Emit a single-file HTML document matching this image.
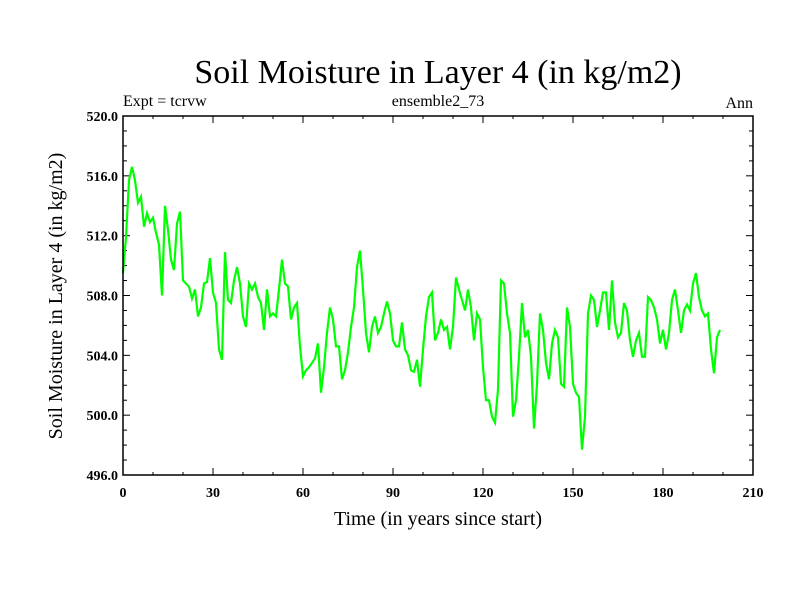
<!DOCTYPE html>
<html><head><meta charset="utf-8"><style>body{margin:0;background:#fff}svg{display:block}text{font-family:"Liberation Serif",serif;fill:#000}</style></head>
<body>
<svg id="chart" width="800" height="600" xmlns="http://www.w3.org/2000/svg">
<rect width="800" height="600" fill="#fff"/>
<text x="438" y="83" font-size="34" text-anchor="middle">Soil Moisture in Layer 4 (in kg/m2)</text>
<text x="123" y="106" font-size="16">Expt = tcrvw</text>
<text x="438" y="106" font-size="16" text-anchor="middle">ensemble2_73</text>
<text x="753" y="108" font-size="16" text-anchor="end">Ann</text>
<text x="438" y="525" font-size="20" text-anchor="middle">Time (in years since start)</text>
<text transform="translate(62,296) rotate(-90)" font-size="20" text-anchor="middle">Soil Moisture in Layer 4 (in kg/m2)</text>
<g id="axes"></g>
<polyline id="series" fill="none" stroke="#00ff00" stroke-width="2.2" stroke-linejoin="miter"/>
<rect x="123" y="116" width="630" height="359" fill="none" stroke="#000" stroke-width="1.5"/>
</svg>
<script>
const xTicks=[0,30,60,90,120,150,180,210];
const yTicks=[496,500,504,508,512,516,520];
const years=[];for(let i=0;i<200;i++)years.push(i);
const values=[509.5,511.9,515.7,516.6,515.7,514.2,514.6,512.6,513.5,512.9,513.2,512.2,511.4,508.0,514.0,512.4,510.4,509.7,512.8,513.6,
509.0,508.8,508.6,507.8,508.4,506.6,507.2,508.8,508.9,510.5,508.2,507.5,504.4,503.7,510.9,507.7,507.5,509.0,509.9,508.8,
506.6,505.9,508.8,508.4,508.8,507.9,507.5,505.7,508.4,506.6,506.8,506.6,508.4,510.4,508.8,508.6,506.4,507.2,507.5,504.6,
502.6,503.0,503.2,503.5,503.8,504.8,501.5,503.2,505.5,507.2,506.4,504.6,504.6,502.4,503.0,504.2,505.9,507.2,509.9,511.0,
508.4,505.5,504.2,505.9,506.6,505.5,505.9,506.8,507.6,506.8,505.0,504.6,504.6,506.2,504.4,504.0,503.0,502.9,503.7,501.9,
504.4,506.6,507.9,508.2,505.0,505.5,506.4,505.7,505.9,504.4,505.9,509.2,508.4,507.7,507.0,508.4,507.2,505.0,506.8,506.4,
503.2,501.0,501.0,499.9,499.5,501.7,509.0,508.8,506.8,505.5,499.9,501.0,503.9,507.5,505.2,505.7,503.9,499.1,502.1,506.8,
505.7,503.5,502.4,504.8,505.7,505.2,502.1,501.9,507.2,505.9,502.1,501.5,501.2,497.7,499.9,506.8,508.0,507.7,505.9,507.0,
508.2,508.2,505.7,509.0,506.2,505.2,505.5,507.5,507.0,505.0,503.9,505.0,505.5,503.9,503.9,507.9,507.7,507.2,506.4,504.8,
505.7,504.4,505.5,507.7,508.4,507.0,505.5,507.0,507.4,507.0,508.8,509.5,507.9,507.0,506.6,506.8,504.4,502.8,505.2,505.7];
const X0=123,X1=753,Y0=475,Y1=116;
const xs=v=>X0+(v-0)/(210-0)*(X1-X0);
const ys=v=>Y0-(v-496)/(520-496)*(Y0-Y1);
const NS="http://www.w3.org/2000/svg";
const g=document.getElementById('axes');
function line(x1,y1,x2,y2,name){const l=document.createElementNS(NS,'line');
l.setAttribute('x1',x1);l.setAttribute('y1',y1);l.setAttribute('x2',x2);l.setAttribute('y2',y2);
l.setAttribute('stroke','#000');l.setAttribute('stroke-width','1');


g.appendChild(l);}
function txt(x,y,s,anchor,name){const t=document.createElementNS(NS,'text');
t.setAttribute('x',x);t.setAttribute('y',y);t.setAttribute('font-size','14');t.setAttribute('font-weight','bold');t.setAttribute('text-anchor',anchor);t.textContent=s;


g.appendChild(t);}
for(let v=496;v<=520;v++){const y=ys(v);const L=(v%4===0)?7:4;
line(X0,y,X0+L,y,'y-tick');line(X1,y,X1-L,y,'y-tick');}
yTicks.forEach(v=>txt(X0-5,ys(v)+5,v.toFixed(1),'end','y-tick-label'));
for(let v=0;v<=210;v+=10){const x=xs(v);const L=(v%30===0)?7:3;
line(x,Y0,x,Y0-L,'x-tick');line(x,Y1,x,Y1+L,'x-tick');}
xTicks.forEach(v=>txt(xs(v),Y0+22,String(v),'middle','x-tick-label'));
document.getElementById('series').setAttribute('points',years.map((yr,i)=>xs(yr).toFixed(1)+','+ys(values[i]).toFixed(1)).join(' '));
</script>
</body></html>
